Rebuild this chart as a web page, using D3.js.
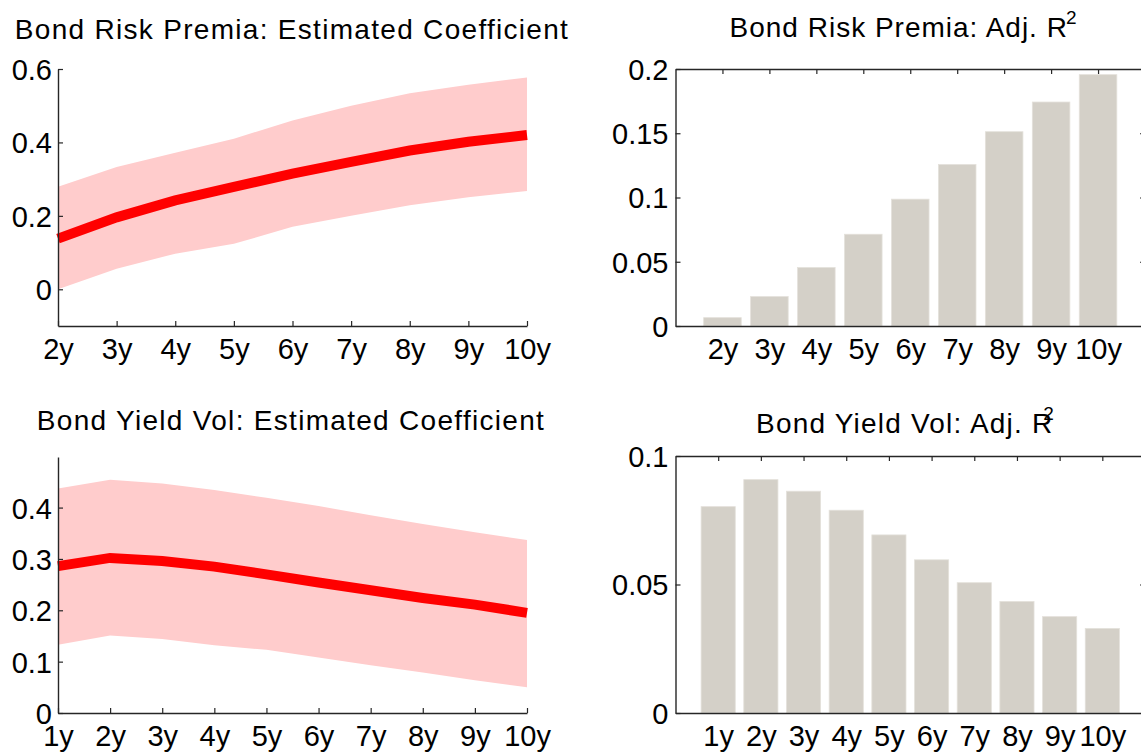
<!DOCTYPE html>
<html>
<head>
<meta charset="utf-8">
<script src="https://cdn.jsdelivr.net/npm/d3@7/dist/d3.min.js"></script>
<style>
  html, body { margin: 0; padding: 0; background: #fff; }
  svg { display: block; }
  text { font-family: "Liberation Sans", Arial, Helvetica, sans-serif; fill: #000; }
</style>
</head>
<body>
<svg id="chart" width="1141" height="754"></svg>
<script>
// ---------------- data ----------------
const termsTop = ["2y", "3y", "4y", "5y", "6y", "7y", "8y", "9y", "10y"];
const coefTop  = [0.138, 0.196, 0.242, 0.279, 0.315, 0.347, 0.378, 0.402, 0.420];
const upperTop = [0.279, 0.333, 0.372, 0.410, 0.460, 0.500, 0.534, 0.557, 0.577];
const lowerTop = [0.000, 0.056, 0.097, 0.124, 0.170, 0.200, 0.229, 0.251, 0.268];
const r2Top    = [0.0065, 0.0229, 0.0455, 0.0714, 0.0987, 0.1257, 0.1512, 0.1743, 0.1956];

const termsBottom = ["1y", "2y", "3y", "4y", "5y", "6y", "7y", "8y", "9y", "10y"];
const coefBottom  = [0.286, 0.302, 0.296, 0.285, 0.270, 0.254, 0.239, 0.224, 0.211, 0.195];
const upperBottom = [0.437, 0.454, 0.447, 0.434, 0.419, 0.403, 0.385, 0.368, 0.352, 0.337];
const lowerBottom = [0.133, 0.151, 0.144, 0.132, 0.123, 0.108, 0.093, 0.079, 0.064, 0.050];
const r2Bottom    = [0.0803, 0.0908, 0.0863, 0.0789, 0.0693, 0.0596, 0.0507, 0.0434, 0.0375, 0.0329];

const yTicksCoefTop    = [0, 0.2, 0.4, 0.6];
const yTicksR2Top      = [0, 0.05, 0.1, 0.15, 0.2];
const yTicksCoefBottom = [0, 0.1, 0.2, 0.3, 0.4];
const yTicksR2Bottom   = [0, 0.05, 0.1];

const titles = {
  coefTop: "Bond Risk Premia: Estimated Coefficient",
  r2Top: "Bond Risk Premia: Adj. R",
  coefBottom: "Bond Yield Vol: Estimated Coefficient",
  r2Bottom: "Bond Yield Vol: Adj. R"
};

// ---------------- styles ----------------
const AXIS_COLOR = "#262626";
const BAND_COLOR = "#ffcccc";
const LINE_COLOR = "#ff0000";
const BAR_COLOR  = "#d4d0c8";
const TICK_FONT  = 29;
const TITLE_FONT = 28;

const svg = d3.select("#chart");
const fmt = v => (v === 0 ? "0" : String(+v.toFixed(3)));

function styleAxis(g) {
  g.selectAll("path.domain").attr("stroke", AXIS_COLOR).attr("stroke-width", 1.4);
  g.selectAll(".tick line").attr("stroke", AXIS_COLOR).attr("stroke-width", 1.2);
  g.selectAll(".tick text").attr("font-size", TICK_FONT).attr("font-family", null).attr("fill", "#000");
  g.attr("font-family", null);
}

function addTitle(main, sup, cx, baseline, supDx, ls) {
  const t = svg.append("text")
    .attr("x", cx).attr("y", baseline)
    .attr("text-anchor", "middle")
    .attr("font-size", TITLE_FONT)
    .attr("letter-spacing", ls)
    .text(main);
  if (sup) {
    t.append("tspan").attr("dx", supDx).attr("dy", -13).attr("font-size", 19)
      .attr("letter-spacing", 0).text(sup);
  }
}

// ---------------- line/band panels ----------------
function coefPanel(opts) {
  const { terms, coef, upper, lower, yDomain, yTicks, left, right, top, bottom } = opts;
  const x = d3.scalePoint().domain(terms).range([left, right]).padding(0);
  const y = d3.scaleLinear().domain(yDomain).range([bottom, top]);

  const area = d3.area()
    .x((d, i) => x(terms[i]))
    .y0((d, i) => y(lower[i]))
    .y1((d, i) => y(upper[i]));
  svg.append("path").datum(upper).attr("d", area).attr("fill", BAND_COLOR);

  const line = d3.line().x((d, i) => x(terms[i])).y(d => y(d));
  svg.append("path").datum(coef).attr("d", line)
    .attr("fill", "none").attr("stroke", LINE_COLOR).attr("stroke-width", 10)
    .attr("stroke-linejoin", "miter").attr("stroke-linecap", "butt");

  const gy = svg.append("g").attr("transform", `translate(${left},0)`)
    .call(d3.axisLeft(y).tickValues(yTicks).tickFormat(fmt).tickSizeInner(-5).tickSizeOuter(0).tickPadding(6));
  styleAxis(gy);
  gy.selectAll(".tick text").attr("dy", "0.36em");

  const gx = svg.append("g").attr("transform", `translate(0,${bottom})`)
    .call(d3.axisBottom(x).tickSizeInner(-5).tickSizeOuter(0).tickPadding(12));
  styleAxis(gx);
}

// ---------------- bar panels ----------------
function barPanel(opts) {
  const { terms, values, yDomain, yTicks, left, right, top, bottom } = opts;
  const n = terms.length;
  const x = d3.scaleLinear().domain([0, n + 1]).range([left, right]);
  const y = d3.scaleLinear().domain(yDomain).range([bottom, top]);
  const idx = d3.range(1, n + 1);
  const bw = x(0.8) - x(0);

  const clipId = "clip" + Math.round(top);
  svg.append("clipPath").attr("id", clipId).append("rect")
    .attr("x", left).attr("y", top).attr("width", right - left).attr("height", bottom - top);

  svg.append("g").attr("clip-path", `url(#${clipId})`).selectAll("rect")
    .data(values).join("rect")
    .attr("x", (d, i) => x(i + 1) - bw / 2)
    .attr("width", bw)
    .attr("y", d => y(d))
    .attr("height", d => y(0) - y(d))
    .attr("fill", BAR_COLOR)
    .attr("stroke", "#e4e1db").attr("stroke-width", 0.8);

  const gy = svg.append("g").attr("transform", `translate(${left},0)`)
    .call(d3.axisLeft(y).tickValues(yTicks).tickFormat(fmt).tickSizeInner(-5).tickSizeOuter(0).tickPadding(7));
  styleAxis(gy);
  gy.selectAll(".tick text").attr("dy", "0.36em");

  const gyr = svg.append("g").attr("transform", `translate(${right},0)`)
    .call(d3.axisRight(y).tickValues(yTicks.filter(v => v !== yDomain[0] && v !== yDomain[1]))
      .tickFormat("").tickSizeInner(-5).tickSizeOuter(0));
  styleAxis(gyr);

  const gt = svg.append("g").attr("transform", `translate(0,${top})`)
    .call(d3.axisTop(x).tickValues(idx).tickFormat("").tickSizeInner(-5).tickSizeOuter(0));
  styleAxis(gt);

  const gx = svg.append("g").attr("transform", `translate(0,${bottom})`)
    .call(d3.axisBottom(x).tickValues(idx).tickFormat(i => terms[i - 1]).tickSizeInner(0).tickSizeOuter(0).tickPadding(12));
  styleAxis(gx);
}

// ---------------- layout ----------------
coefPanel({ terms: termsTop, coef: coefTop, upper: upperTop, lower: lowerTop,
  yDomain: [-0.1, 0.6], yTicks: yTicksCoefTop, left: 58, right: 527, top: 69, bottom: 326 });
barPanel({ terms: termsTop, values: r2Top, yDomain: [0, 0.2], yTicks: yTicksR2Top,
  left: 675.5, right: 1145, top: 69, bottom: 326 });
coefPanel({ terms: termsBottom, coef: coefBottom, upper: upperBottom, lower: lowerBottom,
  yDomain: [0, 0.4985], yTicks: yTicksCoefBottom, left: 58, right: 527, top: 457, bottom: 713 });
barPanel({ terms: termsBottom, values: r2Bottom, yDomain: [0, 0.1], yTicks: yTicksR2Bottom,
  left: 675.5, right: 1145, top: 456, bottom: 713 });

addTitle(titles.coefTop, null, 292, 39, 0, 1.3);
addTitle(titles.r2Top, "2", 903, 37, -2, 1.0);
addTitle(titles.coefBottom, null, 291, 430, 0, 1.3);
addTitle(titles.r2Bottom, "2", 905, 433, -10, 1.2);
</script>
</body>
</html>
